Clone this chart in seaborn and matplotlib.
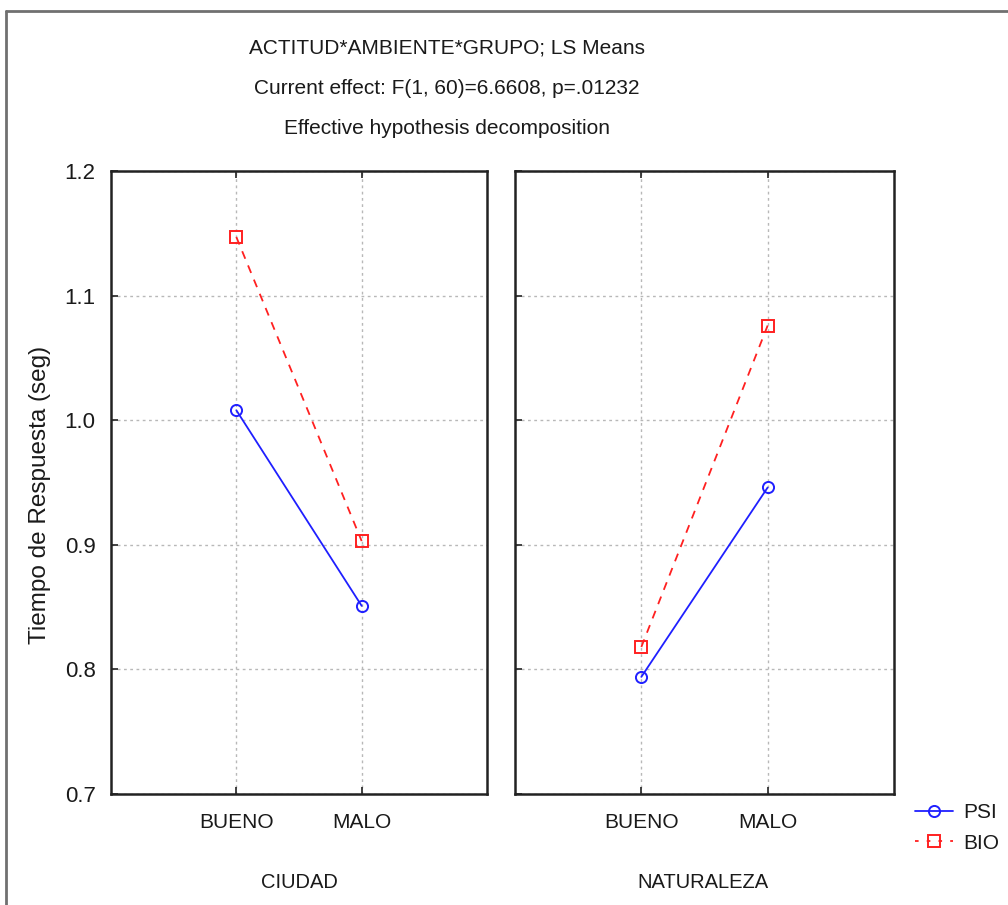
import matplotlib
matplotlib.use("Agg")
import matplotlib.pyplot as plt
from matplotlib.lines import Line2D
import seaborn as sns
import pandas as pd

# ---- data ----
actitud = ["BUENO", "MALO"]
ambientes = ["CIUDAD", "NATURALEZA"]
grupos = ["PSI", "BIO"]
psi_ciudad = [1.008, 0.851]
bio_ciudad = [1.147, 0.903]
psi_naturaleza = [0.794, 0.946]
bio_naturaleza = [0.818, 1.076]
y_ticks = [0.7, 0.8, 0.9, 1.0, 1.1, 1.2]

rows = []
for amb, psi, bio in [("CIUDAD", psi_ciudad, bio_ciudad),
                      ("NATURALEZA", psi_naturaleza, bio_naturaleza)]:
    for a, v in zip(actitud, psi):
        rows.append(dict(AMBIENTE=amb, ACTITUD=a, GRUPO="PSI", y=v))
    for a, v in zip(actitud, bio):
        rows.append(dict(AMBIENTE=amb, ACTITUD=a, GRUPO="BIO", y=v))
df = pd.DataFrame(rows)

sns.set_style("white")
plt.rcParams["font.family"] = ["Liberation Sans", "DejaVu Sans"]

fig = plt.figure(figsize=(10.08, 9.05), dpi=100)
W, H = 1008, 905
def rect(x0, x1, y0, y1):
    return [x0 / W, 1 - y1 / H, (x1 - x0) / W, (y1 - y0) / H]

axL = fig.add_axes(rect(111, 487, 171, 794))
axR = fig.add_axes(rect(515, 894, 171, 794))

palette = {"PSI": "#1f1fff", "BIO": "#ff2020"}
markers = {"PSI": "o", "BIO": "s"}
dashes = {"PSI": "", "BIO": (4.5, 4)}
txt = "#1a1a1a"

for ax, amb in [(axL, "CIUDAD"), (axR, "NATURALEZA")]:
    sub = df[df.AMBIENTE == amb]
    sns.lineplot(data=sub, x="ACTITUD", y="y", hue="GRUPO", style="GRUPO",
                 hue_order=grupos, style_order=grupos, palette=palette,
                 markers=markers, dashes=dashes, markersize=8,
                 markerfacecolor="none", markeredgewidth=1.4, linewidth=1.3,
                 ax=ax, legend=False, sort=False)
    for line in ax.lines:
        line.set_markerfacecolor("none")
        line.set_markeredgecolor(line.get_color())
    ax.set_xlim(-1, 2)
    ax.set_ylim(0.7, 1.2)
    ax.set_yticks(y_ticks)
    ax.set_xlabel("")
    ax.set_ylabel("")
    ax.grid(True, linestyle=(0, (2, 2.5)), color="#b8b8b8", linewidth=1.0)
    ax.set_axisbelow(True)
    for s in ax.spines.values():
        s.set_visible(True)
        s.set_color("#222222")
        s.set_linewidth(1.8)
    ax.tick_params(direction="in", length=5, width=1.2, top=True, bottom=True,
                   left=True, right=False, labelsize=16, labelcolor=txt,
                   color="#222222", pad=11)
    ax.tick_params(axis="x", labelsize=15, pad=14)

axR.set_yticklabels([])

# group labels under each panel
fig.text(299 / W, 1 - 882 / H, "CIUDAD", ha="center", va="center",
         fontsize=14.5, color=txt)
fig.text(703 / W, 1 - 882 / H, "NATURALEZA", ha="center", va="center",
         fontsize=14.5, color=txt)

# y label
fig.text(40 / W, 1 - 495 / H, "Tiempo de Respuesta (seg)", rotation=90,
         ha="center", va="center", fontsize=17.5, color=txt)

# titles
fig.text(447 / W, 1 - 48 / H, "ACTITUD*AMBIENTE*GRUPO; LS Means",
         ha="center", va="center", fontsize=15, color=txt)
fig.text(447 / W, 1 - 88 / H, "Current effect: F(1, 60)=6.6608, p=.01232",
         ha="center", va="center", fontsize=15, color=txt)
fig.text(447 / W, 1 - 128 / H, "Effective hypothesis decomposition",
         ha="center", va="center", fontsize=15, color=txt)

# legend
handles = [Line2D([], [], color=palette[g], marker=markers[g],
                  linestyle="-" if g == "PSI" else (0, (2, 4.5)),
                  markerfacecolor="none", markeredgecolor=palette[g],
                  markersize=8, markeredgewidth=1.4, linewidth=1.3)
           for g in grupos]
fig.legend(handles, grupos, loc="center left",
           bbox_to_anchor=(915 / W, 1 - 828 / H), frameon=False,
           fontsize=15, handlelength=1.8, handletextpad=0.5,
           labelspacing=0.55, borderaxespad=0, borderpad=0, labelcolor=txt)

# outer frame
fig.add_artist(Line2D([6 / W, 6 / W], [0, 1 - 11 / H], color="#707070",
                      linewidth=2, transform=fig.transFigure))
fig.add_artist(Line2D([6 / W, 1], [1 - 11 / H, 1 - 11 / H], color="#707070",
                      linewidth=2, transform=fig.transFigure))

fig.savefig("out.png", dpi=100, facecolor="white")
